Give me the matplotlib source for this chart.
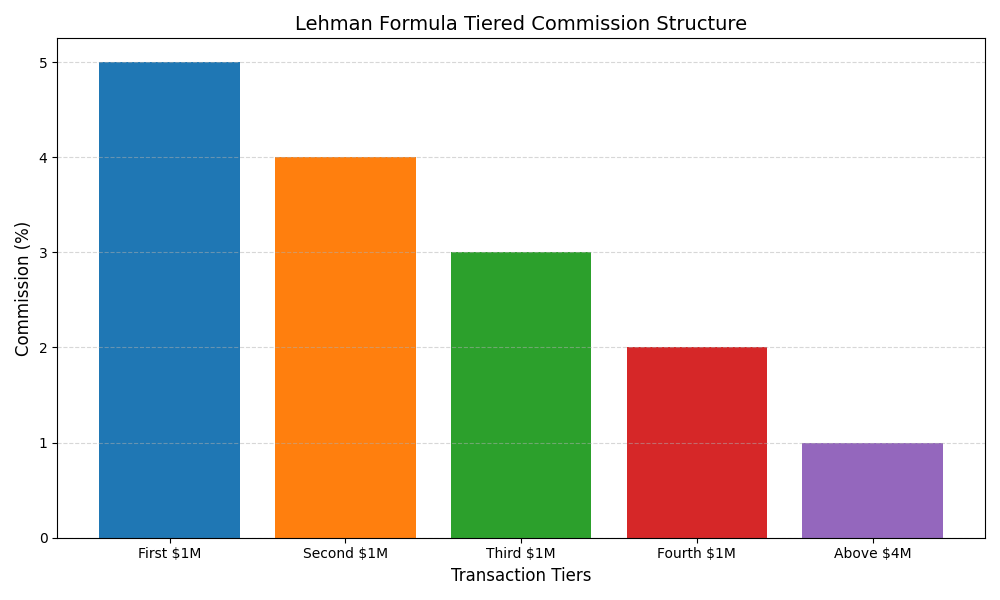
import matplotlib
matplotlib.use('Agg')
import matplotlib.pyplot as plt

# Données
tiers = ['First $1M', 'Second $1M', 'Third $1M', 'Fourth $1M', 'Above $4M']
commission = [5, 4, 3, 2, 1]
colors = ['#1f77b4', '#ff7f0e', '#2ca02c', '#d62728', '#9467bd']

fig, ax = plt.subplots(figsize=(10, 6))
ax.bar(tiers, commission, color=colors)
ax.set_title('Lehman Formula Tiered Commission Structure', fontsize=14)
ax.set_xlabel('Transaction Tiers', fontsize=12)
ax.set_ylabel('Commission (%)', fontsize=12)
ax.grid(axis='y', linestyle='--', alpha=0.5)

plt.tight_layout()
plt.savefig('out.png', dpi=100)
